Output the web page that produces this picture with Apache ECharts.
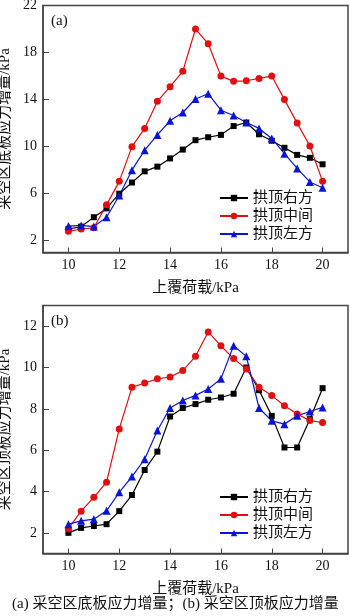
<!DOCTYPE html>
<html>
<head>
<meta charset="utf-8">
<script src="https://cdn.jsdelivr.net/npm/echarts@6/dist/echarts.min.js"></script>
<style>
  html, body { margin: 0; padding: 0; background: #fff; }
  #main { width: 350px; height: 616px; }
</style>
</head>
<body>
<div id="main"></div>
<script>
// load values (kPa), 10 .. 20 step 0.5
const loads = [10, 10.5, 11, 11.5, 12, 12.5, 13, 13.5, 14, 14.5, 15, 15.5, 16, 16.5, 17, 17.5, 18, 18.5, 19, 19.5, 20];

// (a) floor stress increment
const floorRight = [3.0, 3.2, 4.0, 4.75, 6.0, 6.95, 7.9, 8.3, 9.0, 9.75, 10.55, 10.8, 11.0, 11.75, 12.05, 11.05, 10.5, 9.9, 9.3, 9.05, 8.5];
const floorMid = [2.8, 3.0, 3.1, 5.05, 7.05, 10.0, 11.55, 13.85, 15.1, 16.4, 20.0, 18.75, 16.0, 15.55, 15.6, 15.8, 16.0, 14.0, 12.0, 10.05, 7.05];
const floorLeft = [3.25, 3.3, 3.2, 4.0, 5.85, 8.0, 9.7, 11.0, 12.2, 12.9, 14.05, 14.5, 13.1, 12.65, 12.05, 11.55, 10.7, 9.4, 8.15, 7.0, 6.5];

// (b) roof stress increment
const roofRight = [2.0, 2.24, 2.33, 2.42, 3.05, 3.83, 5.04, 5.93, 7.63, 8.04, 8.23, 8.44, 8.55, 8.73, 10.0, 8.9, 7.66, 6.13, 6.13, 7.5, 9.0];
const roofMid = [2.2, 3.05, 3.72, 4.45, 7.03, 9.04, 9.25, 9.45, 9.54, 9.85, 10.54, 11.72, 11.05, 10.43, 9.93, 9.04, 8.64, 8.15, 7.75, 7.43, 7.34];
const roofLeft = [2.42, 2.58, 2.66, 3.07, 3.96, 4.72, 5.56, 6.95, 8.04, 8.4, 8.65, 8.96, 9.45, 11.05, 10.54, 8.04, 7.42, 7.26, 7.66, 7.87, 8.07];

const seriesNames = ['拱顶右方', '拱顶中间', '拱顶左方'];
const xTicks = [10, 12, 14, 16, 18, 20];
const floorTicks = [2, 6, 10, 14, 18, 22];
const roofTicks = [2, 4, 6, 8, 10, 12];

const numFont = '"Liberation Serif", "Noto Sans CJK SC", serif';
const cjkFont = '"Liberation Serif", "Noto Sans CJK SC", serif';
const colors = ['#000000', '#e01010', '#0a14d2'];
const symbols = ['rect', 'circle', 'triangle'];
const symbolSizes = [6, 7, 8];

function pairs(vals) {
    return loads.map((x, i) => [x, vals[i]]);
}

function makeX(gridIndex) {
    return {
        type: 'value', gridIndex: gridIndex, min: 9, max: 21,
        name: '上覆荷载/kPa', nameLocation: 'middle', nameGap: 28,
        nameTextStyle: { fontFamily: cjkFont, fontSize: 15, color: '#111' },
        axisLine: { show: true, lineStyle: { color: '#444', width: 1.5 } },
        axisTick: { show: true, inside: true, length: 5, customValues: xTicks, lineStyle: { color: '#444' } },
        axisLabel: { customValues: xTicks, margin: 6, fontFamily: numFont, fontSize: 14, color: '#111' },
        splitLine: { show: false }
    };
}

function makeY(gridIndex, min, max, ticks, name) {
    return {
        type: 'value', gridIndex: gridIndex, min: min, max: max,
        name: name, nameLocation: 'middle', nameGap: 24,
        nameTextStyle: { fontFamily: cjkFont, fontSize: 15, color: '#111' },
        axisLine: { show: true, lineStyle: { color: '#444', width: 1.5 } },
        axisTick: { show: true, inside: true, length: 6, customValues: ticks, lineStyle: { color: '#444' } },
        axisLabel: { customValues: ticks, margin: 6, fontFamily: numFont, fontSize: 14, color: '#111' },
        splitLine: { show: false }
    };
}

function makeSeries(sets, axisIndex) {
    return sets.map((vals, i) => ({
        name: seriesNames[i],
        type: 'line',
        xAxisIndex: axisIndex,
        yAxisIndex: axisIndex,
        data: pairs(vals),
        symbol: symbols[i],
        symbolSize: symbolSizes[i],
        showAllSymbol: true,
        color: colors[i],
        lineStyle: { width: 1.2, color: colors[i] },
        itemStyle: { color: colors[i] },
        animation: false
    }));
}

function makeLegend(top) {
    return {
        orient: 'vertical', left: 214, top: top,
        data: seriesNames,
        itemWidth: 28, itemHeight: 8, itemGap: 2,
        selectedMode: false,
        textStyle: { fontFamily: cjkFont, fontSize: 15, color: '#111', lineHeight: 16 }
    };
}

let chartDom = document.getElementById('main');
let myChart = echarts.init(chartDom, null, { renderer: 'canvas' });
let option = {
    animation: false,
    grid: [
        { left: 43, right: 2, top: 5.5, height: 247, outerBoundsMode: 'none', containLabel: false, show: true, borderColor: '#444', borderWidth: 1.5, backgroundColor: 'transparent' },
        { left: 43, right: 2, top: 305.5, height: 248, outerBoundsMode: 'none', containLabel: false, show: true, borderColor: '#444', borderWidth: 1.5, backgroundColor: 'transparent' }
    ],
    xAxis: [makeX(0), makeX(1)],
    yAxis: [
        makeY(0, 1, 22, floorTicks, '采空区底板应力增量/kPa'),
        makeY(1, 1, 13, roofTicks, '采空区顶板应力增量/kPa')
    ],
    legend: [makeLegend(185), makeLegend(484)],
    graphic: [
        { type: 'text', left: 51, top: 14, style: { text: '(a)', font: '15px ' + numFont, fill: '#111' } },
        { type: 'text', left: 51, top: 314, style: { text: '(b)', font: '15px ' + numFont, fill: '#111' } },
        { type: 'text', left: 12, top: 597, style: { text: '(a) 采空区底板应力增量；(b) 采空区顶板应力增量', font: '15px ' + cjkFont, fill: '#111' } }
    ],
    series: makeSeries([floorRight, floorMid, floorLeft], 0).concat(makeSeries([roofRight, roofMid, roofLeft], 1))
};

option && myChart.setOption(option);
</script>
</body>
</html>
